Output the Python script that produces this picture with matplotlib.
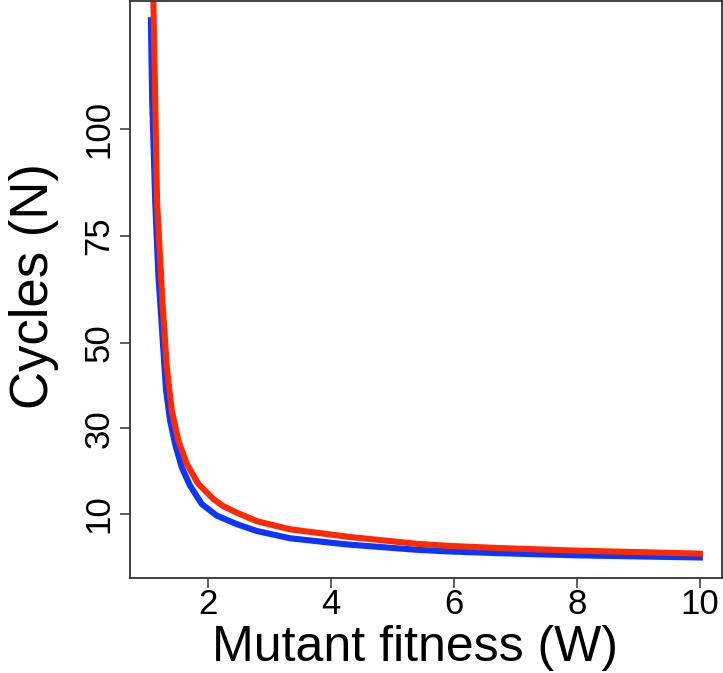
import matplotlib
matplotlib.use("Agg")
import matplotlib.pyplot as plt

# values
w_blue = [1.08, 1.10, 1.15, 1.20, 1.229, 1.283, 1.326, 1.391, 1.472, 1.581, 1.716, 1.906,
          2.149, 2.474, 2.80, 3.34, 4.04, 4.31, 5.40, 5.94, 6.75, 8.00, 10.00]
n_blue = [125.5, 107, 83, 66, 60, 48.2, 38.9, 31.9, 26.4, 20.9, 16.6, 12.3,
          9.6, 7.6, 6.0, 4.3, 3.2, 2.8, 1.6, 1.2, 0.8, 0.3, -0.2]

w_red = [1.10, 1.12, 1.15, 1.18, 1.266, 1.338, 1.419, 1.526, 1.662, 1.851, 2.094,
         2.257, 2.474, 2.80, 3.34, 4.04, 4.31, 5.40, 5.94, 6.75, 8.00, 10.00]
n_red = [145, 130, 107, 83, 60, 44.3, 34.2, 27.2, 21.7, 17.0, 13.5,
         11.8, 10.3, 8.3, 6.4, 5.1, 4.6, 3.0, 2.5, 2.0, 1.4, 0.7]

x_ticks = [2, 4, 6, 8, 10]
y_ticks = [10, 30, 50, 75, 100]

plt.rcParams["font.family"] = ["Liberation Sans", "DejaVu Sans"]

fig = plt.figure(figsize=(7.23, 6.73), dpi=100)
ax = fig.add_axes([130 / 723, 1 - 578 / 673, 592 / 723, 577 / 673])

ax.plot(w_blue, n_blue, color="#0a36ff", linewidth=4.4, solid_joinstyle="round")
ax.plot(w_red, n_red, color="#ff2a00", linewidth=4.4, solid_joinstyle="round")

ax.set_xlim(0.74, 10.36)
ax.set_ylim(-5, 130)

ax.set_xticks(x_ticks)
ax.set_yticks(y_ticks)
ax.set_yticklabels([str(v) for v in y_ticks], rotation=90, va="center")
ax.tick_params(axis="both", labelsize=25, length=7, width=1.1, color="#333333")
ax.tick_params(axis="x", pad=0.5)
ax.tick_params(axis="y", pad=3.6)

for spine in ax.spines.values():
    spine.set_linewidth(1.3)
    spine.set_color("#333333")

ax.set_xlabel("Mutant fitness (W)", fontsize=36)
ax.set_ylabel("Cycles (N)", fontsize=38)
ax.xaxis.set_label_coords(0.481, -0.081, transform=ax.transAxes)
ax.yaxis.set_label_coords(-0.12, 0.506, transform=ax.transAxes)

fig.savefig("out.png", dpi=100)
